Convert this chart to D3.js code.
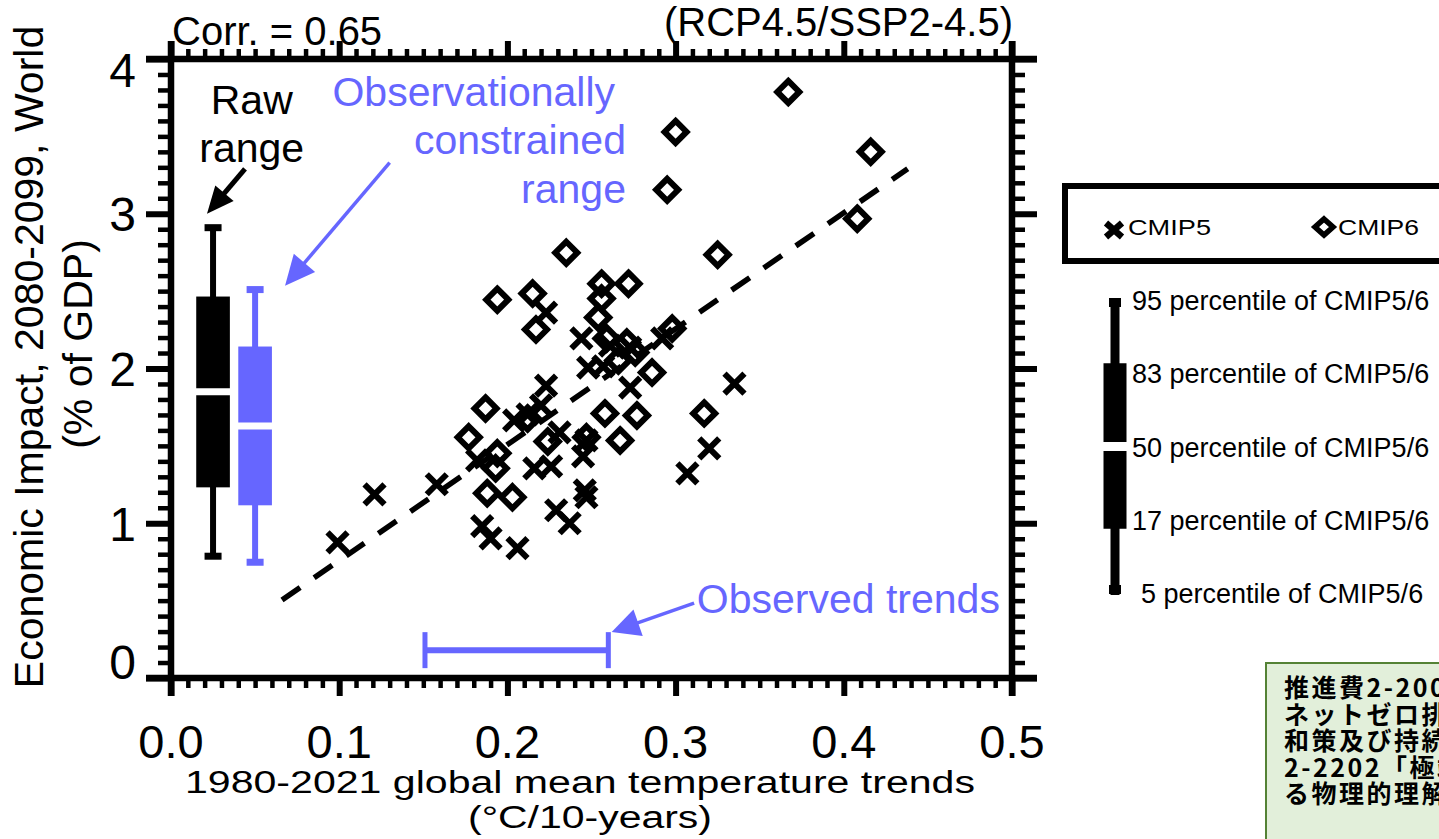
<!DOCTYPE html>
<html>
<head>
<meta charset="utf-8">
<script src="https://cdn.jsdelivr.net/npm/d3@7"></script>
<style>
  body { margin: 0; background: #fff; }
  svg { display: block; font-family: 'Liberation Sans', Arial, sans-serif; }
</style>
</head>
<body>
<script>
// [trend (°C/10yr), impact (% of GDP)]
const cmip5 = [
  [0.099, 0.877], [0.121, 1.187], [0.158, 1.252], [0.182, 1.406], [0.185, 0.981],
  [0.190, 0.903], [0.206, 0.839], [0.229, 1.084], [0.237, 1.000], [0.247, 1.168],
  [0.246, 1.213], [0.216, 1.355], [0.226, 1.368], [0.245, 1.432], [0.247, 1.535],
  [0.212, 1.703], [0.220, 1.761], [0.223, 1.890], [0.223, 2.361], [0.244, 2.194],
  [0.248, 2.006], [0.257, 2.013], [0.261, 2.148], [0.273, 2.135], [0.273, 1.877],
  [0.292, 2.194], [0.335, 1.903], [0.320, 1.484], [0.307, 1.323], [0.231, 1.587],
  [0.204, 1.665]
];
const cmip6 = [
  [0.367, 3.787], [0.300, 3.529], [0.416, 3.400], [0.295, 3.155], [0.408, 2.968],
  [0.235, 2.748], [0.325, 2.735], [0.194, 2.445], [0.215, 2.484], [0.256, 2.548],
  [0.272, 2.548], [0.256, 2.452], [0.254, 2.329], [0.217, 2.252], [0.298, 2.258],
  [0.259, 2.194], [0.271, 2.168], [0.276, 2.103], [0.266, 2.052], [0.286, 1.974],
  [0.187, 1.742], [0.177, 1.555], [0.258, 1.710], [0.277, 1.697], [0.317, 1.710],
  [0.267, 1.535], [0.224, 1.529], [0.247, 1.555], [0.194, 1.452], [0.193, 1.355],
  [0.188, 1.194], [0.203, 1.168], [0.212, 1.677]
];

// regression line
const fitSlope = 7.49;
const fitIntercept = 0.01;
const fitRange = [0.066, 0.438];

// raw / observationally constrained ranges
const boxNames = ['raw', 'constrained'];
const boxX = [0.025, 0.05];
const boxP5 = [0.787, 0.748];
const boxP17 = [1.232, 1.116];
const boxP50 = [1.85, 1.629];
const boxP83 = [2.465, 2.142];
const boxP95 = [2.91, 2.51];

// observed warming trend range
const obsRange = [0.151, 0.260];
const obsLevel = 0.18;

const xTicks = [0, 0.1, 0.2, 0.3, 0.4, 0.5];
const xTickLabels = ['0.0', '0.1', '0.2', '0.3', '0.4', '0.5'];
const yTicks = [0, 1, 2, 3, 4];
const yTickLabels = ['0', '1', '2', '3', '4'];
const pctLabels = ['95', '83', '50', '17', '5'];
const jpLines = ['推進費2-2001', 'ネットゼロ排出', '和策及び持続', '2-2202「極端', 'る物理的理解'];

const blue = '#6666ff';

const svg = d3.select('body')
  .append('svg')
  .attr('width', 1439)
  .attr('height', 839)

const x = d3.scaleLinear().domain([0, 0.5]).range([171, 1012]);
const y = d3.scaleLinear().domain([0, 4]).range([678, 59]);

// axes (Igor style: ticks outside, on all four sides)
const addTicks = (axis, values, size, width, transform) => {
  const g = svg.append('g')
    .attr('transform', transform)
    .call(axis.tickValues(values).tickSize(size).tickFormat(''));
  g.select('.domain').remove();
  g.selectAll('text').remove();
  g.selectAll('line').attr('stroke', '#000').attr('stroke-width', width);
}

const xMinor = d3.range(0, 0.5001, 0.01);
const yMinor = d3.range(0, 4.001, 0.1);

addTicks(d3.axisBottom(x), xMinor, 10, 4.5, `translate(0, ${y(0)})`);
addTicks(d3.axisBottom(x), xTicks, 18, 6, `translate(0, ${y(0)})`);
addTicks(d3.axisTop(x), xMinor, 10, 4.5, `translate(0, ${y(4)})`);
addTicks(d3.axisTop(x), xTicks, 18, 6, `translate(0, ${y(4)})`);
addTicks(d3.axisLeft(y), yMinor, 13, 4.5, `translate(${x(0)}, 0)`);
addTicks(d3.axisLeft(y), yTicks, 25, 6, `translate(${x(0)}, 0)`);
addTicks(d3.axisRight(y), yMinor, 13, 4.5, `translate(${x(0.5)}, 0)`);
addTicks(d3.axisRight(y), yTicks, 25, 6, `translate(${x(0.5)}, 0)`);

[y(0), y(4)].forEach(yy => {
  svg.append('line')
    .attr('x1', x(0) - 25).attr('x2', x(0.5) + 25)
    .attr('y1', yy).attr('y2', yy)
    .attr('stroke', '#000').attr('stroke-width', 6.5)
});
[x(0), x(0.5)].forEach(xx => {
  svg.append('line')
    .attr('x1', xx).attr('x2', xx)
    .attr('y1', y(4) - 18).attr('y2', y(0) + 18)
    .attr('stroke', '#000').attr('stroke-width', 6.5)
});

// tick labels
svg.selectAll('.xlab').data(xTicks).enter()
  .append('text')
  .attr('x', d => x(d))
  .attr('y', 758)
  .attr('text-anchor', 'middle')
  .attr('font-size', 47)
  .text((d, i) => xTickLabels[i]);

// end labels are pulled inside the axis range
svg.selectAll('.ylab').data(yTicks).enter()
  .append('text')
  .attr('x', 136)
  .attr('y', d => Math.min(Math.max(y(d), 70), 662))
  .attr('dy', '0.36em')
  .attr('text-anchor', 'end')
  .attr('font-size', 48)
  .text((d, i) => yTickLabels[i]);

// axis titles
svg.append('text')
  .attr('transform', 'translate(43, 357) rotate(-90)')
  .attr('text-anchor', 'middle')
  .attr('font-size', 41)
  .text('Economic Impact, 2080-2099, World');
svg.append('text')
  .attr('transform', 'translate(92, 344) rotate(-90)')
  .attr('text-anchor', 'middle')
  .attr('font-size', 41)
  .text('(% of GDP)');

svg.append('text')
  .attr('x', 580).attr('y', 793)
  .attr('text-anchor', 'middle')
  .attr('font-size', 31)
  .attr('textLength', 790)
  .attr('lengthAdjust', 'spacingAndGlyphs')
  .text('1980-2021 global mean temperature trends');
svg.append('text')
  .attr('x', 590).attr('y', 828)
  .attr('text-anchor', 'middle')
  .attr('font-size', 31)
  .attr('textLength', 244)
  .attr('lengthAdjust', 'spacingAndGlyphs')
  .text('(°C/10-years)');

svg.append('text')
  .attr('x', 172).attr('y', 45)
  .attr('font-size', 40)
  .text('Corr. = 0.65');
svg.append('text')
  .attr('x', 1013).attr('y', 36)
  .attr('text-anchor', 'end')
  .attr('font-size', 40)
  .text('(RCP4.5/SSP2-4.5)');

// dashed regression line
svg.append('line')
  .attr('x1', x(fitRange[0])).attr('y1', y(fitSlope * fitRange[0] + fitIntercept))
  .attr('x2', x(fitRange[1])).attr('y2', y(fitSlope * fitRange[1] + fitIntercept))
  .attr('stroke', '#000')
  .attr('stroke-width', 5.5)
  .attr('stroke-dasharray', '22,17')

// scatter
svg.selectAll('.c5').data(cmip5).enter()
  .append('path')
  .attr('d', 'M-10,-10L10,10M-10,10L10,-10')
  .attr('transform', d => `translate(${x(d[0])}, ${y(d[1])})`)
  .attr('stroke', '#000')
  .attr('stroke-width', 6)
  .attr('fill', 'none');

svg.selectAll('.c6').data(cmip6).enter()
  .append('path')
  .attr('d', 'M0,-11L11,0L0,11L-11,0Z')
  .attr('transform', d => `translate(${x(d[0])}, ${y(d[1])})`)
  .attr('stroke', '#000')
  .attr('stroke-width', 6)
  .attr('fill', 'none');

// box plots
const halfBox = x(0.01) - x(0);
boxNames.forEach((name, i) => {
  const col = i === 0 ? '#000' : blue;
  const cx = x(boxX[i]);
  svg.append('line')
    .attr('x1', cx).attr('x2', cx)
    .attr('y1', y(boxP95[i])).attr('y2', y(boxP5[i]))
    .attr('stroke', col).attr('stroke-width', 6);
  [boxP95[i], boxP5[i]].forEach(v => {
    svg.append('rect')
      .attr('x', cx - 8.5).attr('y', y(v) - 3.5)
      .attr('width', 17).attr('height', 7)
      .attr('fill', col);
  });
  svg.append('rect')
    .attr('x', cx - halfBox).attr('y', y(boxP83[i]))
    .attr('width', 2 * halfBox).attr('height', y(boxP17[i]) - y(boxP83[i]))
    .attr('fill', col);
  svg.append('line')
    .attr('x1', cx - halfBox - 1).attr('x2', cx + halfBox + 1)
    .attr('y1', y(boxP50[i])).attr('y2', y(boxP50[i]))
    .attr('stroke', '#fff').attr('stroke-width', 7);
});

// observed trends bar
svg.append('line')
  .attr('x1', x(obsRange[0])).attr('x2', x(obsRange[1]))
  .attr('y1', y(obsLevel)).attr('y2', y(obsLevel))
  .attr('stroke', blue).attr('stroke-width', 6);
obsRange.forEach(v => {
  svg.append('line')
    .attr('x1', x(v)).attr('x2', x(v))
    .attr('y1', y(obsLevel) - 18).attr('y2', y(obsLevel) + 18)
    .attr('stroke', blue).attr('stroke-width', 5);
});

// arrows
const arrow = (from, to, col, width, len, half) => {
  const x1 = x(from[0]), y1 = y(from[1]), x2 = x(to[0]), y2 = y(to[1]);
  const l = Math.hypot(x2 - x1, y2 - y1);
  const ux = (x2 - x1) / l, uy = (y2 - y1) / l;
  const bx = x2 - ux * len, by = y2 - uy * len;
  svg.append('line')
    .attr('x1', x1).attr('y1', y1).attr('x2', bx + ux * 2).attr('y2', by + uy * 2)
    .attr('stroke', col).attr('stroke-width', width);
  svg.append('path')
    .attr('d', `M${x2},${y2}L${bx - uy * half},${by + ux * half}L${bx + uy * half},${by - ux * half}Z`)
    .attr('fill', col);
}
arrow([0.044, 3.29], [0.0214, 3.0], '#000', 5, 27, 12);
arrow([0.130, 3.33], [0.0678, 2.535], blue, 3.5, 30, 14);
arrow([0.311, 0.484], [0.262, 0.297], blue, 3.5, 28, 14);

// annotations
const note = (txt, xv, yv, anchor, col) => {
  svg.append('text')
    .attr('x', x(xv)).attr('y', y(yv))
    .attr('text-anchor', anchor)
    .attr('font-size', 41)
    .attr('fill', col)
    .text(txt);
}
note('Raw', 0.048, 3.645, 'middle', '#000');
note('range', 0.048, 3.335, 'middle', '#000');
note('Observationally', 0.264, 3.697, 'end', blue);
note('constrained', 0.2705, 3.387, 'end', blue);
note('range', 0.2705, 3.071, 'end', blue);
note('Observed trends', 0.3126, 0.419, 'start', blue);

// legend: model generations
svg.append('rect')
  .attr('x', 1065).attr('y', 186)
  .attr('width', 420).attr('height', 75)
  .attr('fill', 'none')
  .attr('stroke', '#000').attr('stroke-width', 6);
svg.append('path')
  .attr('d', 'M-8,-7L8,7M-8,7L8,-7')
  .attr('transform', 'translate(1114, 230)')
  .attr('stroke', '#000').attr('stroke-width', 6.5);
svg.append('path')
  .attr('d', 'M0,-8L9,0L0,8L-9,0Z')
  .attr('transform', 'translate(1324, 227)')
  .attr('fill', 'none')
  .attr('stroke', '#000').attr('stroke-width', 5.5);
svg.append('text')
  .attr('x', 1128).attr('y', 235)
  .attr('font-size', 22)
  .attr('textLength', 83).attr('lengthAdjust', 'spacingAndGlyphs')
  .text('CMIP5');
svg.append('text')
  .attr('x', 1338).attr('y', 235)
  .attr('font-size', 22)
  .attr('textLength', 81).attr('lengthAdjust', 'spacingAndGlyphs')
  .text('CMIP6');

// legend: percentile bar
const p = d3.scalePoint().domain(pctLabels).range([300, 593]);
const lx = 1115;
svg.append('rect').attr('x', lx - 4.5).attr('y', p('95') + 2).attr('width', 9).attr('height', p('5') - p('95')).attr('fill', '#000');
svg.append('rect').attr('x', lx - 6).attr('y', p('95') - 2).attr('width', 12).attr('height', 9).attr('fill', '#000');
svg.append('rect').attr('x', lx - 6).attr('y', p('5') - 8).attr('width', 12).attr('height', 9).attr('fill', '#000');
svg.append('rect')
  .attr('x', lx - 11.5).attr('y', p('83') - 10)
  .attr('width', 23).attr('height', p('17') - p('83') + 19)
  .attr('fill', '#000');
svg.append('line')
  .attr('x1', lx - 13).attr('x2', lx + 13)
  .attr('y1', p('50')).attr('y2', p('50'))
  .attr('stroke', '#fff').attr('stroke-width', 9);

svg.selectAll('.pct').data(pctLabels).enter()
  .append('text')
  .attr('x', d => d === '5' ? 1141 : 1132)
  .attr('y', d => p(d) + 10)
  .attr('font-size', 27)
  .text(d => `${d} percentile of CMIP5/6`);

// funding note box (cut off by the frame)
svg.append('rect')
  .attr('x', 1266).attr('y', 663)
  .attr('width', 220).attr('height', 220)
  .attr('fill', '#e2efda')
  .attr('stroke', '#548235').attr('stroke-width', 2);
svg.selectAll('.jp').data(jpLines).enter()
  .append('text')
  .attr('x', 1284)
  .attr('y', (d, i) => 697 + i * 26.6)
  .attr('font-family', "'Noto Sans CJK JP', sans-serif")
  .attr('font-weight', 'bold')
  .attr('font-size', 25)
  .attr('letter-spacing', 2.5)
  .text(d => d);
</script>
</body>
</html>
